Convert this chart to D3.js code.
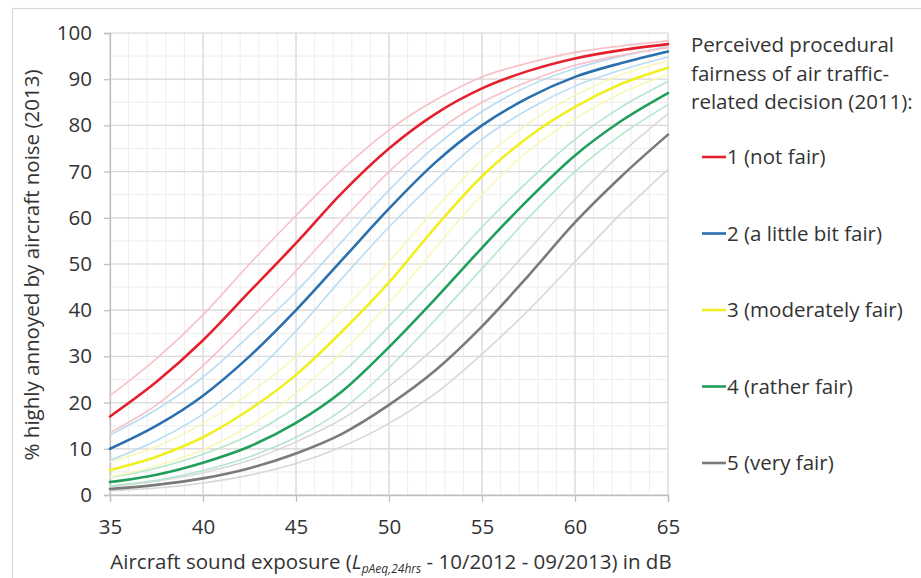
<!DOCTYPE html>
<html><head><meta charset="utf-8">
<script src="https://cdn.jsdelivr.net/npm/d3@7"></script>
<style>
body{margin:0;background:#fff;}
svg{display:block;font-family:"Open Sans",sans-serif;}
</style></head>
<body><svg id="chart" width="921" height="578"></svg>
<script>
// ---- data ----
const dB = [35, 37.5, 40, 42.5, 45, 47.5, 50, 52.5, 55, 57.5, 60, 62.5, 65];
const xTicks = [35, 40, 45, 50, 55, 60, 65];
const yTicks = [0, 10, 20, 30, 40, 50, 60, 70, 80, 90, 100];

const seriesNames = ["1 (not fair)", "2 (a little bit fair)", "3 (moderately fair)", "4 (rather fair)", "5 (very fair)"];

const fair1Main  = [17, 24.5, 33.5, 44, 54.5, 65.5, 75, 82.5, 88, 91.8, 94.5, 96.3, 97.6];
const fair1Upper = [21.5, 29.5, 39, 50, 60.5, 70.5, 79, 85.5, 90.5, 93.5, 95.8, 97.2, 98.3];
const fair1Lower = [13.5, 19.5, 28, 38, 48.5, 59.5, 70, 78.5, 85, 89.5, 93, 95.2, 96.8];

const fair2Main  = [10, 15, 21.5, 30, 40, 51, 62, 72, 80, 86, 90.5, 93.5, 96];
const fair2Upper = [13, 18.5, 25.5, 34.5, 44, 55, 66, 75.5, 83, 88.5, 92.3, 95, 97];
const fair2Lower = [7.5, 11.8, 17.5, 25.5, 35.5, 47, 58, 68, 77, 83.5, 88.5, 92, 94.8];

const fair3Main  = [5.4, 8.3, 12.5, 18.5, 26, 35.5, 46, 58, 69, 77.5, 84, 89, 92.5];
const fair3Upper = [7.2, 10.5, 15.5, 22, 30, 40, 50.5, 62, 72.5, 80.5, 86.5, 91, 94];
const fair3Lower = [3.9, 6.3, 9.8, 15, 22, 31, 41.5, 53.5, 65, 74.5, 81.5, 87, 91];

const fair4Main  = [2.8, 4.4, 7, 10.5, 15.6, 22.5, 32, 42.5, 53.5, 64, 73.5, 81, 87];
const fair4Upper = [3.8, 5.8, 8.8, 13, 19, 26.5, 36.5, 47, 58, 68, 77, 84, 89.5];
const fair4Lower = [2, 3.2, 5.3, 8.3, 12.5, 18.5, 27.5, 38, 49, 60, 70, 78, 84.5];

const fair5Main  = [1.3, 2.2, 3.6, 5.8, 9, 13.3, 19.5, 27, 36.5, 47.5, 59, 69, 78];
const fair5Upper = [1.8, 3, 4.8, 7.5, 11.5, 16.5, 23.5, 32, 42, 53, 64, 74, 82.5];
const fair5Lower = [0.9, 1.5, 2.6, 4.3, 6.8, 10.5, 15.5, 22, 30.5, 40, 50.5, 61, 70.5];

const mainSeries  = [fair1Main, fair2Main, fair3Main, fair4Main, fair5Main];
const upperSeries = [fair1Upper, fair2Upper, fair3Upper, fair4Upper, fair5Upper];
const lowerSeries = [fair1Lower, fair2Lower, fair3Lower, fair4Lower, fair5Lower];

const mainColors = ["#e4202c", "#2a6fae", "#f0f020", "#1f9e5c", "#7a7a7a"];
const ciColors   = ["#f7c0c6", "#b8dcf2", "#f8f8b8", "#b4e6cc", "#d8d8d8"];

// ---- layout ----
const svg = d3.select("#chart");
const pL = 110, pR = 668, pT = 33, pB = 495;
const fs = "20.5px";
const x = d3.scaleLinear().domain([35, 65]).range([pL, pR]);
const y = d3.scaleLinear().domain([0, 100]).range([pB, pT]);

// outer frame
svg.append("rect").attr("x", 12.5).attr("y", 8.5).attr("width", 930).attr("height", 590)
  .attr("fill", "none").attr("stroke", "#d9d9d9").attr("stroke-width", 1.2);

// minor grid
const g = svg.append("g");
g.selectAll("line.vmin").data(d3.range(35, 66, 1)).join("line")
  .attr("x1", d => x(d)).attr("x2", d => x(d)).attr("y1", pT).attr("y2", pB)
  .attr("stroke", "#eeeeee").attr("stroke-width", 1);
g.selectAll("line.hmin").data(d3.range(0, 101, 5)).join("line")
  .attr("y1", d => y(d)).attr("y2", d => y(d)).attr("x1", pL).attr("x2", pR)
  .attr("stroke", "#eeeeee").attr("stroke-width", 1);
// major grid
g.selectAll("line.vmaj").data(xTicks).join("line")
  .attr("x1", d => x(d)).attr("x2", d => x(d)).attr("y1", pT).attr("y2", pB)
  .attr("stroke", "#d9d9d9").attr("stroke-width", 1.2);
g.selectAll("line.hmaj").data(yTicks).join("line")
  .attr("y1", d => y(d)).attr("y2", d => y(d)).attr("x1", pL).attr("x2", pR)
  .attr("stroke", "#d9d9d9").attr("stroke-width", 1.2);

// axes
const xAxis = svg.append("g").attr("transform", `translate(0,${pB})`)
  .call(d3.axisBottom(x).tickValues(xTicks).tickSize(7).tickPadding(17));
const yAxis = svg.append("g").attr("transform", `translate(${pL},0)`)
  .call(d3.axisLeft(y).tickValues(yTicks).tickSize(6).tickPadding(12));
[xAxis, yAxis].forEach(a => {
  a.select(".domain").attr("stroke", "#bfbfbf").attr("stroke-width", 1.3);
  a.selectAll(".tick line").attr("stroke", "#bfbfbf").attr("stroke-width", 1.3);
  a.selectAll(".tick text").attr("fill", "#333").style("font-size", fs)
    .style("font-family", "'Open Sans',sans-serif");
});

// lines
const line = d3.line().x((d, i) => x(dB[i])).y(d => y(d)).curve(d3.curveMonotoneX);
const lines = svg.append("g").attr("fill", "none").attr("stroke-linejoin", "round").attr("stroke-linecap", "round");
for (let s = 4; s >= 0; s--) {
  lines.append("path").attr("d", line(upperSeries[s])).attr("stroke", ciColors[s]).attr("stroke-width", 1.6);
  lines.append("path").attr("d", line(lowerSeries[s])).attr("stroke", ciColors[s]).attr("stroke-width", 1.6);
}
for (let s = 4; s >= 0; s--) {
  lines.append("path").attr("d", line(mainSeries[s])).attr("stroke", mainColors[s]).attr("stroke-width", 2.6);
}

// axis titles
svg.append("text").attr("transform", "translate(39,265) rotate(-90)")
  .attr("text-anchor", "middle").attr("fill", "#333").style("font-size", fs)
  .text("% highly annoyed by aircraft noise (2013)");

const xt = svg.append("text").attr("x", 391).attr("y", 569).attr("text-anchor", "middle")
  .attr("fill", "#333").style("font-size", fs);
xt.append("tspan").text("Aircraft sound exposure (");
xt.append("tspan").attr("font-style", "italic").text("L");
xt.append("tspan").attr("font-style", "italic").style("font-size", "12px").attr("dy", 4).text("pAeq,24hrs");
xt.append("tspan").attr("dy", -4).text(" - 10/2012 - 09/2013)  in dB");

// legend
const legTitle = ["Perceived procedural", "fairness of air traffic-", "related decision (2011):"];
svg.append("g").selectAll("text").data(legTitle).join("text")
  .attr("x", 691).attr("y", (d, i) => 52 + i * 28.5)
  .attr("fill", "#333").style("font-size", fs).text(d => d);

const leg = svg.append("g").selectAll("g").data(seriesNames).join("g")
  .attr("transform", (d, i) => `translate(702,${157 + i * 76.5})`);
leg.append("line").attr("x1", 0).attr("x2", 24).attr("y1", 0).attr("y2", 0)
  .attr("stroke", (d, i) => mainColors[i]).attr("stroke-width", 2.6);
leg.append("text").attr("x", 25).attr("y", 7).attr("fill", "#333")
  .style("font-size", fs).text(d => d);
</script></body></html>
